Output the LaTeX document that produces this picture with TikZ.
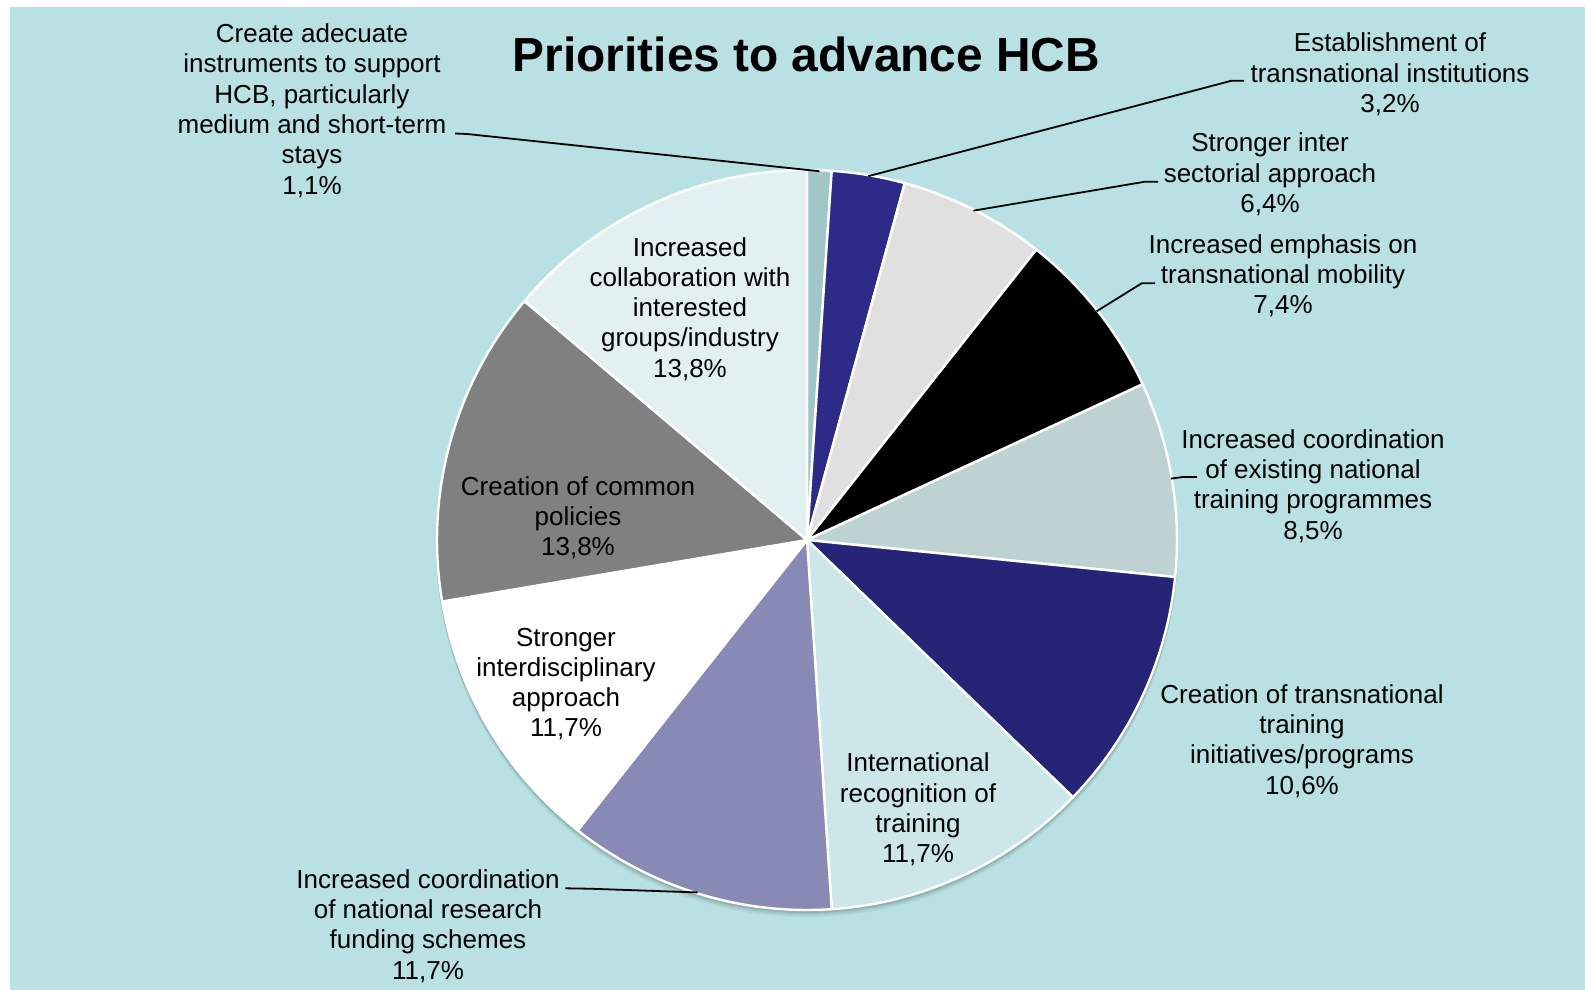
\documentclass[tikz,border=0pt]{standalone}
\usepackage{fontspec}
\setmainfont{Liberation Sans}
\definecolor{bgc}{RGB}{185,224,227}
\definecolor{sA}{RGB}{160,198,200}
\definecolor{sB}{RGB}{46,42,135}
\definecolor{sC}{RGB}{224,224,224}
\definecolor{sD}{RGB}{0,0,0}
\definecolor{sE}{RGB}{190,210,212}
\definecolor{sF}{RGB}{38,36,119}
\definecolor{sG}{RGB}{205,230,233}
\definecolor{sH}{RGB}{137,137,181}
\definecolor{sI}{RGB}{255,255,255}
\definecolor{sJ}{RGB}{128,128,128}
\definecolor{sK}{RGB}{226,240,241}
\newcommand\topst{\rule{0pt}{10pt}}
\newcommand\botst{\rule[-3pt]{0pt}{3pt}}
\tikzset{
  lbl/.style={align=center, inner sep=0pt, font=\fontsize{13}{15.15}\selectfont},
  ttl/.style={inner sep=0pt, anchor=base, font=\fontsize{23.9}{28}\selectfont\bfseries},
  leader/.style={draw=black, line width=0.9pt},
  slicestyle/.style={draw=white, line width=1.2pt, line join=round}
}
\begin{document}
\begin{tikzpicture}[x=0.5pt,y=-0.5pt]
\useasboundingbox (0,0) rectangle (1585,990);
\fill[white] (0,0) rectangle (1585,990);
\fill[bgc] (10,7) rectangle (1585,990);

% pie
\begin{scope}[shift={(807,540)},yscale=-1]
  \fill[black,opacity=0.05] (0,-6) circle[radius=371];
  \fill[black,opacity=0.07] (0,-4) circle[radius=371];
  \fill[black,opacity=0.10] (0,-2) circle[radius=371];
  \foreach \a/\b/\c in {90/86.170/sA, 86.170/74.681/sB, 74.681/51.702/sC,
      51.702/24.894/sD, 24.894/-5.745/sE, -5.745/-44.043/sF,
      -44.043/-86.170/sG, -86.170/-128.298/sH, -128.298/-170.426/sI,
      -170.426/-220.213/sJ, -220.213/-270/sK}
    \filldraw[fill=\c, slicestyle] (0,0) -- (\a:370) arc[start angle=\a, end angle=\b, radius=370] -- cycle;
  \coordinate (e1) at (88.085:369);
  \coordinate (e2) at (80.43:369);
  \coordinate (e3) at (63.19:369);
  \coordinate (e4) at (38.30:369);
  \coordinate (e5) at (9.57:369);
  \coordinate (e8) at (-107.23:369);
\end{scope}

% title
\node[ttl] (title) at (806.5,71.7) {Priorities to advance HCB};

% labels
\node[lbl] (l1) at (312,111.45) {\topst Create adecuate\\instruments to support\\HCB, particularly\\medium and short-term\\stays\\1,1\%\botst};
\node[lbl] (l2) at (1390,75) {\topst Establishment of\\transnational institutions\\3,2\%\botst};
\node[lbl] (l3) at (1270,175) {\topst Stronger inter\\sectorial approach\\6,4\%\botst};
\node[lbl] (l4) at (1283,276.6) {\topst Increased emphasis on\\transnational mobility\\7,4\%\botst};
\node[lbl] (l5) at (1313,486.75) {\topst Increased coordination\\of existing national\\training programmes\\8,5\%\botst};
\node[lbl] (l6) at (1302,741.75) {\topst Creation of transnational\\training\\initiatives/programs\\10,6\%\botst};
\node[lbl] (l7) at (918,810.15) {\topst International\\recognition of\\training\\11,7\%\botst};
\node[lbl] (l8) at (428,926.75) {\topst Increased coordination\\of national research\\funding schemes\\11,7\%\botst};
\node[lbl] (l9) at (566,684.45) {\topst Stronger\\interdisciplinary\\approach\\11,7\%\botst};
\node[lbl] (l10) at (578,518.3) {\topst Creation of common\\policies\\13,8\%\botst};
\node[lbl] (l11) at (690,309.6) {\topst Increased\\collaboration with\\interested\\groups/industry\\13,8\%\botst};

% leader lines
\coordinate (a1) at (455,133.5);
\coordinate (a2) at (1244,80.7);
\coordinate (a3) at (1158,181.7);
\coordinate (a4) at (1155,283.3);
\coordinate (a5) at (1197,477);
\coordinate (a8) at (565.4,888.3);
\draw[leader] (a1) -- ++(12,0.5) -- (e1);
\draw[leader] (a2) -- ++(-12.3,0) -- (e2);
\draw[leader] (a3) -- ++(-13,0) -- (e3);
\draw[leader] (a4) -- ++(-13.3,0) -- (e4);
\draw[leader] (a5) -- ++(-14,0) -- (e5);
\draw[leader] (a8) -- ++(24,0.4) -- (e8);
\end{tikzpicture}
\end{document}
